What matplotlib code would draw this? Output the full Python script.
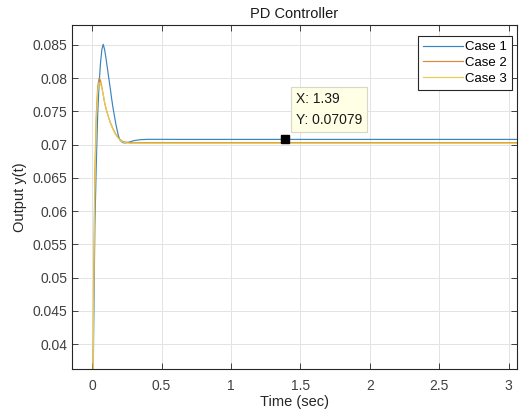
import matplotlib
matplotlib.use("Agg")
import matplotlib.pyplot as plt

plt.rcParams['font.family'] = ['Liberation Sans', 'DejaVu Sans']

# time samples (sec) and readings of the three responses
t = [0, 0.01, 0.02, 0.03, 0.04, 0.05, 0.06, 0.07, 0.08, 0.09, 0.10, 0.11,
     0.12, 0.13, 0.14, 0.15, 0.16, 0.17, 0.18, 0.19, 0.20, 0.22, 0.24, 0.27,
     0.30, 0.35, 0.40, 0.50, 0.60, 0.80, 1.00, 1.39, 2.00, 3.10]
case1 = [0, 0.0400, 0.0580, 0.0670, 0.0745, 0.0790, 0.0822, 0.0843, 0.0851,
         0.0843, 0.0830, 0.0815, 0.0800, 0.0786, 0.0770, 0.0756, 0.0744,
         0.0732, 0.0722, 0.0713, 0.0707, 0.0703, 0.07025, 0.0704, 0.0706,
         0.07075, 0.0708, 0.0708, 0.07079, 0.07079, 0.07079, 0.07079,
         0.07079, 0.07079]
case2 = [0, 0.0480, 0.0660, 0.0745, 0.0787, 0.0800, 0.0797, 0.0787, 0.0775,
         0.0763, 0.0754, 0.0747, 0.0740, 0.0734, 0.0729, 0.0724, 0.0720,
         0.0716, 0.0713, 0.0710, 0.0708, 0.0705, 0.0704, 0.0703, 0.07028,
         0.0703, 0.0703, 0.0703, 0.0703, 0.0703, 0.0703, 0.0703, 0.0703,
         0.0703]
case3 = [0, 0.0450, 0.0640, 0.0735, 0.0780, 0.0793, 0.0792, 0.0785, 0.0775,
         0.0764, 0.0755, 0.0747, 0.0740, 0.0734, 0.0728, 0.0723, 0.0719,
         0.0715, 0.0712, 0.0709, 0.0707, 0.0704, 0.0703, 0.0702, 0.0702,
         0.0702, 0.0702, 0.0702, 0.0702, 0.0702, 0.0702, 0.0702, 0.0702,
         0.0702]
labels = ['Case 1', 'Case 2', 'Case 3']

# data tip
tip_x = 1.39
tip_y = 0.07079

xticks = [0, 0.5, 1, 1.5, 2, 2.5, 3]
yticks = [0.04, 0.045, 0.05, 0.055, 0.06, 0.065, 0.07, 0.075, 0.08, 0.085]

fig = plt.figure(figsize=(5.19, 4.12), dpi=100)
ax = fig.add_axes([0.1387, 0.1044, 0.8574, 0.835])

colors = ['#3a84c0', '#d98c38', '#e6cc55']
for y, lab, c in zip([case1, case2, case3], labels, colors):
    ax.plot(t, y, color=c, lw=0.85, label=lab)

ax.set_xlim(-0.145, 3.06)
ax.set_ylim(0.03624, 0.08801)
ax.set_xticks(xticks)
ax.set_xticklabels(['0', '0.5', '1', '1.5', '2', '2.5', '3'])
ax.set_yticks(yticks)
ax.set_yticklabels(['0.04', '0.045', '0.05', '0.055', '0.06', '0.065',
                    '0.07', '0.075', '0.08', '0.085'])

ax.grid(True, color='#e3e3e3', lw=0.7)
ax.set_axisbelow(True)
ax.tick_params(direction='in', top=True, right=True, length=4,
               labelsize=10, colors='#404040', width=0.7)
ax.tick_params(axis='x', pad=7)
for s in ax.spines.values():
    s.set_color('#262626')
    s.set_linewidth(0.8)

ax.set_title('PD Controller', fontsize=10.5, color='#1a1a1a', pad=5)
ax.set_xlabel('Time (sec)', fontsize=10.5, color='#262626', labelpad=2)
ax.set_ylabel('Output y(t)', fontsize=10.5, color='#262626', labelpad=4)

leg = ax.legend(loc='upper right', fontsize=9.5, handlelength=3.0,
                handletextpad=0.15, borderpad=0.4, labelspacing=0.25,
                borderaxespad=0, fancybox=False, framealpha=1,
                bbox_to_anchor=(0.989, 0.968))
leg.get_frame().set_edgecolor('#262626')
leg.get_frame().set_linewidth(0.8)

# data tip marker and box
ax.plot([tip_x], [tip_y], marker='s', color='black', ms=6, zorder=5)
ax.annotate('X: %.2f\nY: %.5f' % (tip_x, tip_y), xy=(tip_x, tip_y),
            xytext=(8, 9), textcoords='offset points',
            ha='left', va='bottom', fontsize=10, color='#1a1a1a',
            linespacing=1.6,
            bbox=dict(boxstyle='square,pad=0.35', fc='#ffffe6',
                      ec='#d8d8c8', lw=0.8))

fig.savefig('out.png', dpi=100)
